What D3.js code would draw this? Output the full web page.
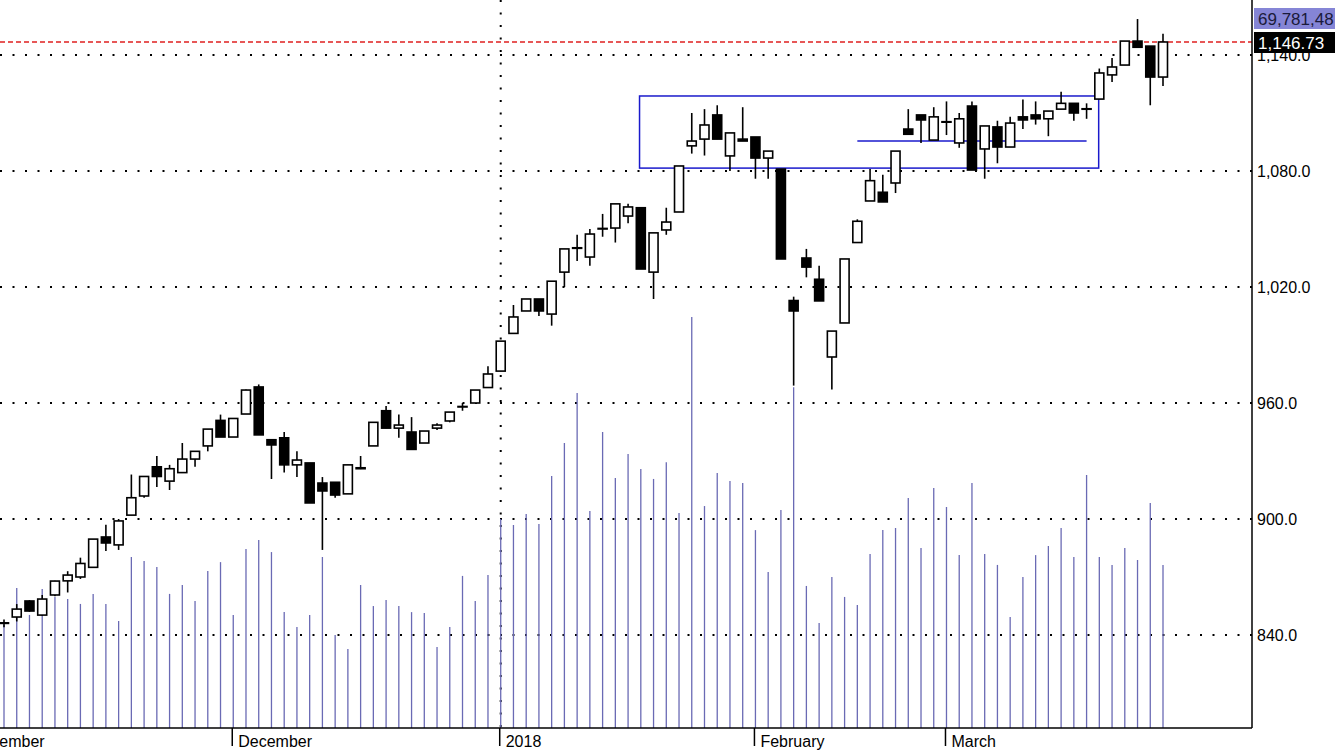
<!DOCTYPE html>
<html>
<head>
<meta charset="utf-8">
<script src="https://cdn.jsdelivr.net/npm/d3@7"></script>
<style>
  body { margin: 0; background: #fff; }
  svg { display: block; font-family: Arial, "Liberation Sans", sans-serif; }
</style>
</head>
<body>
<svg id="chart" width="1335" height="750"></svg>
<script>
// daily OHLC
const opens = [846,849.3,857.6,850.3,860.7,868,870,875,890.7,886.6,902,911.9,927,919.6,924,931,937.8,951,942.4,954.3,
  968.3,941,942,928,929,918.6,919,913,926.5,937.8,956,947,945,939.3,947,950.7,958,960,968,976.5,
  996,1007.6,1013.8,1006,1027.7,1040,1035.5,1050,1050.5,1056.7,1061,1027.7,1049.5,1058.8,1093,1096.5,1109,1087.8,1096.5,1097.6,
  1086.7,1081,1013,1035,1024,983.8,1001.4,1043,1064.5,1069,1073.8,1101.7,1109,1096,1105.3,1094.5,1113.6,1091.4,1102.8,1092.4,
  1108,1109,1107,1112,1115,1112,1117.2,1129.7,1134.8,1147.2,1144.6,1128.6];
const highs = [848,856,858,860.7,868,873,880,889.6,897,900,923,922,932.6,928,939.3,935,946.5,954,952,967,
  969.6,941,945,935,929,921.7,919,928,932.6,950,958.5,954,952.7,945.5,949.5,955.3,960,966.7,979,992,
  1010.7,1013.8,1013.8,1023,1039.7,1047,1050,1057.8,1063,1063,1061,1048,1061,1082.6,1110,1112,1114,1099.7,1113,1097.6,
  1090.3,1081,1015,1039.7,1031,997.2,1034.5,1055,1081,1078,1090.3,1112,1109,1113,1116,1110,1116,1103.3,1106,1108,
  1117,1116,1111,1121,1115,1115,1133,1138.4,1147.2,1158.6,1144.6,1151];
const lows = [844,847,852,850,860,862,869,875,883.4,884,902,911,916.5,915,923.8,927,935,942.4,942.4,954.3,
  943.5,920.7,924,921.7,908.3,884,911,913,925.8,937.8,947,942,936,939.3,946,950,956,960,968,976.5,
  996,1007.6,1005,1000,1020,1033.5,1031,1046,1043,1053,1029.3,1013.8,1047,1058.8,1089,1088,1096.5,1080,1095.5,1076,
  1076,1034.5,969,1025,1012.8,967,1001.4,1043,1064.5,1064,1068.6,1099,1094.5,1096,1098.6,1092,1080.5,1076,1084,1092.4,
  1101.7,1104,1098,1112,1106,1107,1117.2,1126,1134.8,1144,1114,1124];
const closes = [846.3,853.4,852.4,858.6,867.9,871,877,889.6,887.6,899,911,922,922,926,931,935,946.5,942.4,952,966.7,
  943.5,938.3,928,930.5,908.3,914.5,912.4,928,926,950,947,948.6,936,945.5,948.6,955.3,958.2,966.7,975,992,
  1004.5,1013.8,1007.6,1023,1039.7,1040.3,1047.4,1050.3,1063,1061.4,1029.3,1048,1053.6,1082.6,1095.5,1103.8,1096.5,1099.7,1095.5,1086.7,
  1090.3,1034.5,1007.6,1030.3,1012.8,997.2,1034.5,1054,1075,1064,1090.3,1099,1106.4,1108,1105.5,1107,1080.5,1103.3,1092.4,1104.8,
  1106.4,1107,1111,1115,1110,1112.2,1130.7,1133.8,1147.2,1144,1128.6,1146.73];
// volume, millions
const volumes = [44.1,59.9,48.4,59.5,56.1,55.2,53.1,57.4,53.1,45.8,73.2,71.5,68.9,57.4,61.2,54.4,67.2,71.0,48.4,76.6,
  80.5,75.3,49.6,43.2,48.4,73.2,39.8,33.8,61.2,52.2,54.8,52.2,49.6,49.2,34.7,43.2,65.1,54.4,65.5,89.5,
  86.9,91.6,87.3,107.9,122.0,143.4,92.9,126.7,107.0,117.3,110.9,106.6,113.8,92.0,175.9,95.0,109.1,105.7,104.9,84.7,
  66.8,93.3,145.9,60.8,44.9,64.6,56.1,52.6,74.5,84.7,85.6,98.4,77.0,102.7,94.6,74.0,104.9,74.5,69.8,47.5,
  64.6,74.0,77.9,85.6,73.2,108.3,73.2,69.8,77.0,71.9,96.3,69.78148];
const priceTicks = [840, 900, 960, 1020, 1080, 1140];
const monthLabels = ["November", "December", "2018", "February", "March"];
const monthIdx = [-3, 18, 39, 59, 74];
const boxRange = {i0: 49.9, i1: 85.95, top: 1118.8, bottom: 1081.5};
const supportLine = {i0: 67.0, i1: 85.0, price: 1095.5};

const svg = d3.select("#chart");
const plotRight = 1252, plotBottom = 728;

const x = d3.scaleLinear().domain([0, 91]).range([4, 1163]);
const y = d3.scaleLinear().domain([840, 1140]).range([635, 55]);
const yVol = d3.scaleLinear().domain([0, 311.6]).range([plotBottom, 0]);

const plot = svg.append("g");

// dotted grid
plot.selectAll(".grid").data(priceTicks).join("line")
  .attr("x1", 0).attr("x2", plotRight)
  .attr("y1", d => y(d)).attr("y2", d => y(d))
  .attr("stroke", "#000").attr("stroke-width", 2).attr("stroke-dasharray", "2,10.5");
plot.append("line")
  .attr("x1", x(monthIdx[2])).attr("x2", x(monthIdx[2]))
  .attr("y1", 0).attr("y2", plotBottom)
  .attr("stroke", "#000").attr("stroke-width", 2).attr("stroke-dasharray", "2,10.5");

// volume
plot.selectAll(".vol").data(volumes).join("line")
  .attr("x1", (d, i) => x(i)).attr("x2", (d, i) => x(i))
  .attr("y1", plotBottom).attr("y2", d => yVol(d))
  .attr("stroke", "#6a6ab4").attr("stroke-width", 1.3);

// last price line
plot.append("line")
  .attr("x1", 0).attr("x2", plotRight)
  .attr("y1", y(1146.73)).attr("y2", y(1146.73))
  .attr("stroke", "#e02020").attr("stroke-width", 1.5).attr("stroke-dasharray", "5,3");

// rectangle + line annotations
plot.append("rect")
  .attr("x", x(boxRange.i0)).attr("y", y(boxRange.top))
  .attr("width", x(boxRange.i1) - x(boxRange.i0))
  .attr("height", y(boxRange.bottom) - y(boxRange.top))
  .attr("fill", "none").attr("stroke", "#1a1acc").attr("stroke-width", 1.5);
plot.append("line")
  .attr("x1", x(supportLine.i0)).attr("x2", x(supportLine.i1))
  .attr("y1", y(supportLine.price)).attr("y2", y(supportLine.price))
  .attr("stroke", "#1a1acc").attr("stroke-width", 1.5);

// candles
const candles = plot.selectAll(".candle").data(opens).join("g");
candles.append("line")
  .attr("x1", (d, i) => x(i)).attr("x2", (d, i) => x(i))
  .attr("y1", (d, i) => y(highs[i])).attr("y2", (d, i) => y(lows[i]))
  .attr("stroke", "#000").attr("stroke-width", 1.6);
candles.append("rect")
  .attr("x", (d, i) => x(i) - 4.5).attr("width", 9)
  .attr("y", (d, i) => y(Math.max(d, closes[i])))
  .attr("height", (d, i) => Math.max(0.5, Math.abs(y(d) - y(closes[i]))))
  .attr("fill", (d, i) => closes[i] >= d ? "#fff" : "#000")
  .attr("stroke", "#000").attr("stroke-width", 1.6);

// frame
svg.append("line").attr("x1", plotRight).attr("x2", plotRight).attr("y1", 0).attr("y2", plotBottom)
  .attr("stroke", "#000").attr("stroke-width", 1.5);
svg.append("line").attr("x1", 0).attr("x2", plotRight).attr("y1", plotBottom).attr("y2", plotBottom)
  .attr("stroke", "#000").attr("stroke-width", 1.5);

// price axis labels
svg.selectAll(".ytick").data(priceTicks).join("text")
  .attr("x", 1257).attr("y", d => y(d) + 6)
  .attr("font-size", 16).attr("fill", "#000")
  .text(d => d3.format(",.1f")(d));

// month axis
monthIdx.forEach((mi, k) => {
  const px = x(mi) - 1;
  svg.append("line").attr("x1", px).attr("x2", px).attr("y1", plotBottom).attr("y2", 746)
    .attr("stroke", "#000").attr("stroke-width", 1.5);
  svg.append("text").attr("x", px + 6).attr("y", 747)
    .attr("font-size", 16).attr("fill", "#000").text(monthLabels[k]);
});

// value tags
svg.append("rect").attr("x", 1254).attr("y", 8).attr("width", 81).attr("height", 21).attr("fill", "#8585d6");
svg.append("text").attr("x", 1258).attr("y", 25).attr("font-size", 17).attr("fill", "#1a1a3a")
  .text(d3.format(",.0f")(volumes[volumes.length - 1] * 1000000).slice(0, 9));
svg.append("rect").attr("x", 1254).attr("y", 32).attr("width", 81).attr("height", 21).attr("fill", "#000");
svg.append("text").attr("x", 1258).attr("y", 49).attr("font-size", 17).attr("fill", "#fff")
  .text(d3.format(",.2f")(closes[closes.length - 1]));
</script>
</body>
</html>
